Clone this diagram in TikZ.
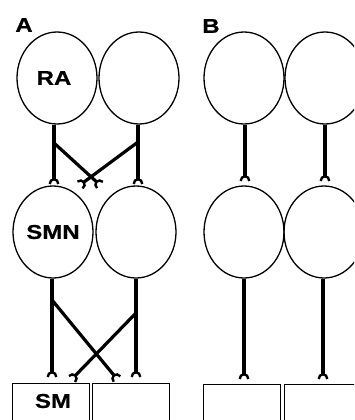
\documentclass[tikz,border=0pt]{standalone}
\usepackage{fontspec}
\setmainfont{Liberation Sans}
\newfontfamily\lblfont{Liberation Sans Bold}[FakeStretch=1.2, FakeBold=0.6]
\usetikzlibrary{arrows.meta,shapes.geometric}
\begin{document}
\begin{tikzpicture}[x=1pt,y=-1pt,
  txt/.style={font=\lblfont\fontsize{20}{22}\selectfont},
  cell/.style={draw, ellipse, minimum width=80pt, minimum height=92pt, inner sep=0pt, line width=1.3pt, txt},
  musc/.style={draw, rectangle, anchor=north west, minimum width=77pt, minimum height=60pt, inner sep=0pt, line width=1.4pt},
  panel/.style={font=\lblfont\fontsize{20}{22}\selectfont, inner sep=0pt},
  fiber/.style={line width=3.2pt, -{Arc Barb[reversed, length=6pt, width=11pt, line width=2.4pt]}}]
\useasboundingbox (0,0) rectangle (354,420);
\clip (0,0) rectangle (354,420);
% panel labels
\node[panel] (la) at (24,25) {A};
\node[panel] (lb) at (211,26) {B};
% panel A cells
\node[cell] (ra1) at (57,78) {\kern-6ptRA};
\node[cell] (ra2) at (139,78) {};
\node[cell] (mn1) at (53,232) {SMN};
\node[cell] (mn2) at (136,232) {};
\node[musc] (sm1) at (12,383) {};
\node[musc] (sm2) at (92,383) {};
\node[txt] (smt) at (53,401) {SM};
% panel B cells
\node[cell] (rb1) at (244,78) {};
\node[cell] (rb2) at (325,78) {};
\node[cell] (nb1) at (244,232) {};
\node[cell] (nb2) at (324,232) {};
\node[musc] (sb1) at (203,384) {};
\node[musc] (sb2) at (284,384) {};
% coordinates for terminals
\coordinate (ta1) at (54,184);
\coordinate (ta2) at (138,184);
\coordinate (ta3) at (100,185);
\coordinate (ta4) at (80,185);
\coordinate (ba1) at (54,143);
\coordinate (ba2) at (138,142);
\coordinate (tm1) at (52,377);
\coordinate (tm2) at (136,377);
\coordinate (tm3) at (117,379);
\coordinate (tm4) at (72,379);
\coordinate (bm1) at (52,300);
\coordinate (bm2) at (136,313);
\coordinate (tb1) at (245,181);
\coordinate (tb2) at (325,181);
\coordinate (tb3) at (244,379);
\coordinate (tb4) at (323,379);
% panel A fibers
\draw[fiber] (ra1.south) ++(-3,0) -- (ta1);
\draw[fiber] (ra2.south) ++(-1,0) -- (ta2);
\draw[fiber] (ba1) -- (ta3);
\draw[fiber] (ba2) -- (ta4);
\draw[fiber] (mn1.south) ++(-1,0) -- (tm1);
\draw[fiber] (mn2.south) -- (tm2);
\draw[fiber] (bm1) -- (tm3);
\draw[fiber] (bm2) -- (tm4);
% panel B fibers
\draw[fiber] (rb1.south) ++(1,0) -- (tb1);
\draw[fiber] (rb2.south) -- (tb2);
\draw[fiber] (nb1.south) -- (tb3);
\draw[fiber] (nb2.south) ++(-1,0) -- (tb4);
\end{tikzpicture}
\end{document}
